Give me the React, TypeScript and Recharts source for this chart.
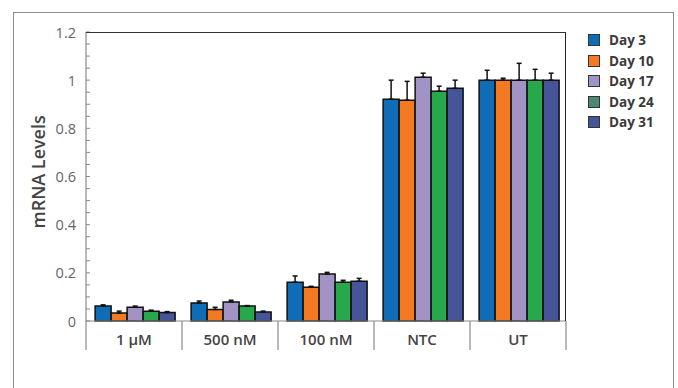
import React from "react";
import { BarChart, Bar, XAxis, YAxis, ErrorBar } from "recharts";

// categories and series
const categories = ["1 µM", "500 nM", "100 nM", "NTC", "UT"];

const day3 = [0.062, 0.075, 0.161, 0.921, 1.0];
const day3Err = [0.005, 0.008, 0.026, 0.079, 0.041];
const day10 = [0.033, 0.048, 0.14, 0.917, 1.0];
const day10Err = [0.008, 0.009, 0.004, 0.078, 0.008];
const day17 = [0.057, 0.079, 0.195, 1.012, 1.0];
const day17Err = [0.005, 0.007, 0.007, 0.017, 0.07];
const day24 = [0.041, 0.062, 0.161, 0.954, 1.0];
const day24Err = [0.004, 0.002, 0.008, 0.021, 0.045];
const day31 = [0.035, 0.037, 0.165, 0.966, 1.0];
const day31Err = [0.004, 0.004, 0.012, 0.034, 0.029];

const seriesNames = ["Day 3", "Day 10", "Day 17", "Day 24", "Day 31"];
const yMajorTicks = [0, 0.2, 0.4, 0.6, 0.8, 1, 1.2];

const barColors = ["#0f6db8", "#f47a22", "#a193c6", "#27a84a", "#46549a"];
// the legend swatch for Day 24 is a muted teal in the original
const legendColors = ["#0f6db8", "#f47a22", "#a193c6", "#4d8872", "#46549a"];

const seriesValues = [day3, day10, day17, day24, day31];
const seriesErrors = [day3Err, day10Err, day17Err, day24Err, day31Err];

const data = categories.map((name, i) => {
  const row: Record<string, any> = { name };
  seriesNames.forEach((s, k) => {
    row[s] = seriesValues[k][i];
    row[s + "_err"] = [0, seriesErrors[k][i]];
  });
  return row;
});

// minor ticks every 0.05 between the labelled ones
const yTicks: number[] = [];
yMajorTicks.forEach((t, i) => {
  yTicks.push(t);
  if (i < yMajorTicks.length - 1) {
    [0.05, 0.1, 0.15].forEach((d) => yTicks.push(Math.round((t + d) * 100) / 100));
  }
});

const W = 678;
const H = 388;
const PLOT_LEFT = 86;
const PLOT_RIGHT = 566;
const PLOT_TOP = 32;
const PLOT_BOTTOM = 321;
const BAND = (PLOT_RIGHT - PLOT_LEFT) / categories.length;
const FONT = "'Open Sans', 'DejaVu Sans', sans-serif";
const AXIS_GRAY = "#8a8a8a";

const YTick = (props: any) => {
  const { y, payload } = props;
  const v = payload.value as number;
  const major = yMajorTicks.some((m) => Math.abs(m - v) < 1e-6);
  return (
    <g>
      <line x1={PLOT_LEFT} x2={PLOT_LEFT + 4} y1={y} y2={y} stroke={AXIS_GRAY} strokeWidth={1} />
      {major && (
        <text
          x={76}
          y={y}
          textAnchor="end"
          dominantBaseline="central"
          fontFamily={FONT}
          fontSize={14.5}
          fill="#666"
        >
          {String(v)}
        </text>
      )}
    </g>
  );
};

const XTick = (props: any) => {
  const { x, payload, index } = props;
  const left = x - BAND / 2;
  return (
    <g>
      <line x1={left} x2={left} y1={PLOT_BOTTOM} y2={350} stroke={AXIS_GRAY} strokeWidth={1.2} />
      {index === categories.length - 1 && (
        <line x1={x + BAND / 2} x2={x + BAND / 2} y1={PLOT_BOTTOM} y2={350} stroke={AXIS_GRAY} strokeWidth={1.2} />
      )}
      <text
        x={x}
        y={345}
        textAnchor="middle"
        fontFamily={FONT}
        fontSize={15}
        fontWeight={600}
        fill="#444"
      >
        {payload.value}
      </text>
    </g>
  );
};

const LegendBox = () => (
  <div style={{ position: "absolute", left: 588, top: 30, fontFamily: FONT }}>
    {seriesNames.map((s, i) => (
      <div key={s} style={{ display: "flex", alignItems: "center", height: 20.5 }}>
        <span
          style={{
            display: "inline-block",
            width: 10,
            height: 10,
            background: legendColors[i],
            border: "1px solid #333",
            marginRight: 9,
          }}
        />
        <span style={{ fontSize: 13.5, fontWeight: 700, color: "#3a3a3a" }}>{s}</span>
      </div>
    ))}
  </div>
);

export default function App() {
  return (
    <div style={{ position: "absolute", left: 0, top: 0, width: W, height: H, background: "#fff", overflow: "hidden" }}>
      <div
        style={{
          position: "absolute",
          left: 13,
          top: 12,
          width: 659,
          height: H,
          borderLeft: "1px solid #8c8c8c",
          borderTop: "1px solid #8c8c8c",
          borderRight: "1px solid #8c8c8c",
        }}
      />
      <div style={{ position: "absolute", left: 0, top: 0 }}>
        <BarChart
          width={W}
          height={H}
          data={data}
          margin={{ top: PLOT_TOP, right: W - PLOT_RIGHT, bottom: 37, left: 26 }}
          barCategoryGap="9.5%"
          barGap={0}
        >
          <XAxis
            dataKey="name"
            height={30}
            axisLine={{ stroke: AXIS_GRAY, strokeWidth: 1.2 }}
            tickLine={false}
            tick={<XTick />}
            interval={0}
          />
          <YAxis
            width={60}
            domain={[0, 1.2]}
            ticks={yTicks}
            interval={0}
            axisLine={{ stroke: AXIS_GRAY, strokeWidth: 1.2 }}
            tickLine={false}
            tick={<YTick />}
            label={{
              value: "mRNA Levels",
              angle: -90,
              position: "insideLeft",
              offset: 0,
              dx: 13,
              dy: 52,
              style: { fontFamily: FONT, fontSize: 18, fontWeight: 600, fill: "#444" },
            }}
          />
          {seriesNames.map((s, i) => (
            <Bar
              key={s}
              dataKey={s}
              fill={barColors[i]}
              stroke="#111"
              strokeWidth={1.5}
              isAnimationActive={false}
            >
              <ErrorBar dataKey={s + "_err"} width={2.5} stroke="#111" strokeWidth={1.5} direction="y" />
            </Bar>
          ))}
        </BarChart>
      </div>
      {/* top and right edge of the plot box */}
      <div
        style={{
          position: "absolute",
          left: PLOT_LEFT,
          top: PLOT_TOP,
          width: PLOT_RIGHT - PLOT_LEFT,
          height: PLOT_BOTTOM - PLOT_TOP,
          borderTop: "1px solid #333",
          borderRight: "1.5px solid #222",
          boxSizing: "border-box",
          pointerEvents: "none",
        }}
      />
      <LegendBox />
    </div>
  );
}
